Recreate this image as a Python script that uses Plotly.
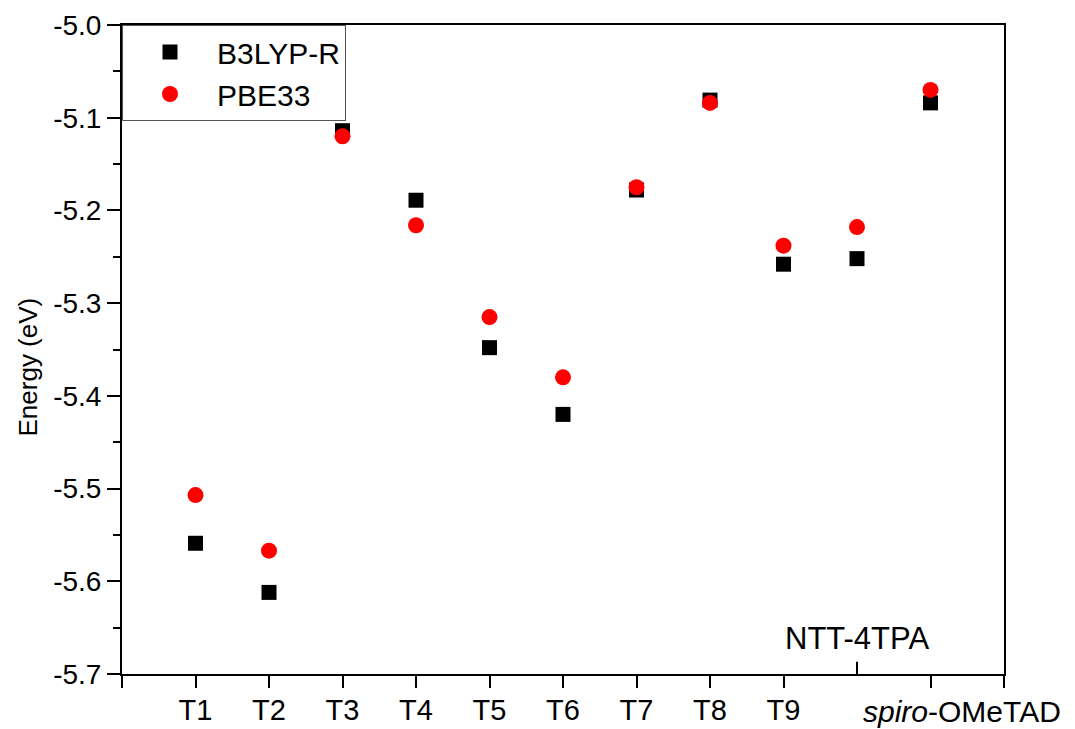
import plotly.graph_objects as go

categories = ["T1", "T2", "T3", "T4", "T5", "T6", "T7", "T8", "T9", "NTT-4TPA", "<i>spiro</i>-OMeTAD"]
positions = [1, 2, 3, 4, 5, 6, 7, 8, 9, 10, 11]
b3lyp = [-5.559, -5.612, -5.114, -5.189, -5.348, -5.420, -5.178, -5.081, -5.258, -5.252, -5.084]
pbe33 = [-5.507, -5.567, -5.120, -5.216, -5.315, -5.380, -5.175, -5.084, -5.238, -5.218, -5.070]
y_ticks = [-5.7, -5.6, -5.5, -5.4, -5.3, -5.2, -5.1, -5.0]
y_ticktext = ["-5.7", "-5.6", "-5.5", "-5.4", "-5.3", "-5.2", "-5.1", "-5.0"]

font = "Liberation Sans, Arial, sans-serif"

fig = go.Figure()
fig.add_trace(go.Scatter(x=positions, y=b3lyp, mode="markers", name="B3LYP-R",
                         marker=dict(symbol="square", size=15, color="black")))
fig.add_trace(go.Scatter(x=positions, y=pbe33, mode="markers", name="PBE33",
                         marker=dict(symbol="circle", size=16, color="#ff0000")))

# x ticks: outside for all but NTT-4TPA which is drawn inside with label above
xt_vals = [0] + positions[:9] + [11, 12]
xt_text = [""] + categories[:9] + ["", ""]

fig.update_xaxes(range=[0, 12], tickmode="array", tickvals=xt_vals, ticktext=xt_text,
                 ticks="outside", ticklen=12, tickwidth=2, tickcolor="black",
                 showline=True, linecolor="black", linewidth=2, mirror=True,
                 showgrid=False, zeroline=False, automargin=False, ticklabelstandoff=-3,
                 tickfont=dict(family=font, size=29, color="black"))
fig.update_yaxes(range=[-5.7, -5.0], tickmode="array", tickvals=y_ticks, ticktext=y_ticktext,
                 ticks="outside", ticklen=13, tickwidth=2, tickcolor="black",
                 minor=dict(tickmode="array", tickvals=[-5.65, -5.55, -5.45, -5.35, -5.25, -5.15, -5.05],
                            ticks="outside", ticklen=7, tickwidth=2, tickcolor="black"),
                 showline=True, linecolor="black", linewidth=2, mirror=True,
                 showgrid=False, zeroline=False, automargin=False,
                 tickfont=dict(family=font, size=28, color="black"))

# y-axis title
fig.add_annotation(x=0, xref="paper", y=0.5, yref="paper", text="Energy (eV)", textangle=-90,
                   showarrow=False, xanchor="center", yanchor="middle", xshift=-95, yshift=-18,
                   font=dict(family=font, size=26, color="black"))

# inward tick for NTT-4TPA
fig.add_shape(type="line", xref="x", yref="paper", x0=positions[9], x1=positions[9], y0=0, y1=0.019,
              line=dict(color="black", width=2))
fig.add_annotation(x=positions[9], xref="x", y=0, yref="paper", text=categories[9],
                   showarrow=False, yanchor="bottom", yshift=16,
                   font=dict(family=font, size=31, color="black"))
# spiro-OMeTAD label (offset to the right of its tick as in the original)
fig.add_annotation(x=positions[10], xref="x", y=0, yref="paper", text=categories[10],
                   showarrow=False, yanchor="top", xanchor="center", xshift=31, yshift=-19,
                   font=dict(family=font, size=30, color="black"))

fig.update_layout(width=1075, height=729, margin=dict(l=122, r=71, t=25, b=55),
                  plot_bgcolor="white", paper_bgcolor="white",
                  legend=dict(x=0, y=1, xanchor="left", yanchor="top", bgcolor="white",
                              bordercolor="#555555", borderwidth=1,
                              font=dict(family=font, size=30, color="black"),
                              itemwidth=84, tracegroupgap=0))

fig.write_html("out.html")
